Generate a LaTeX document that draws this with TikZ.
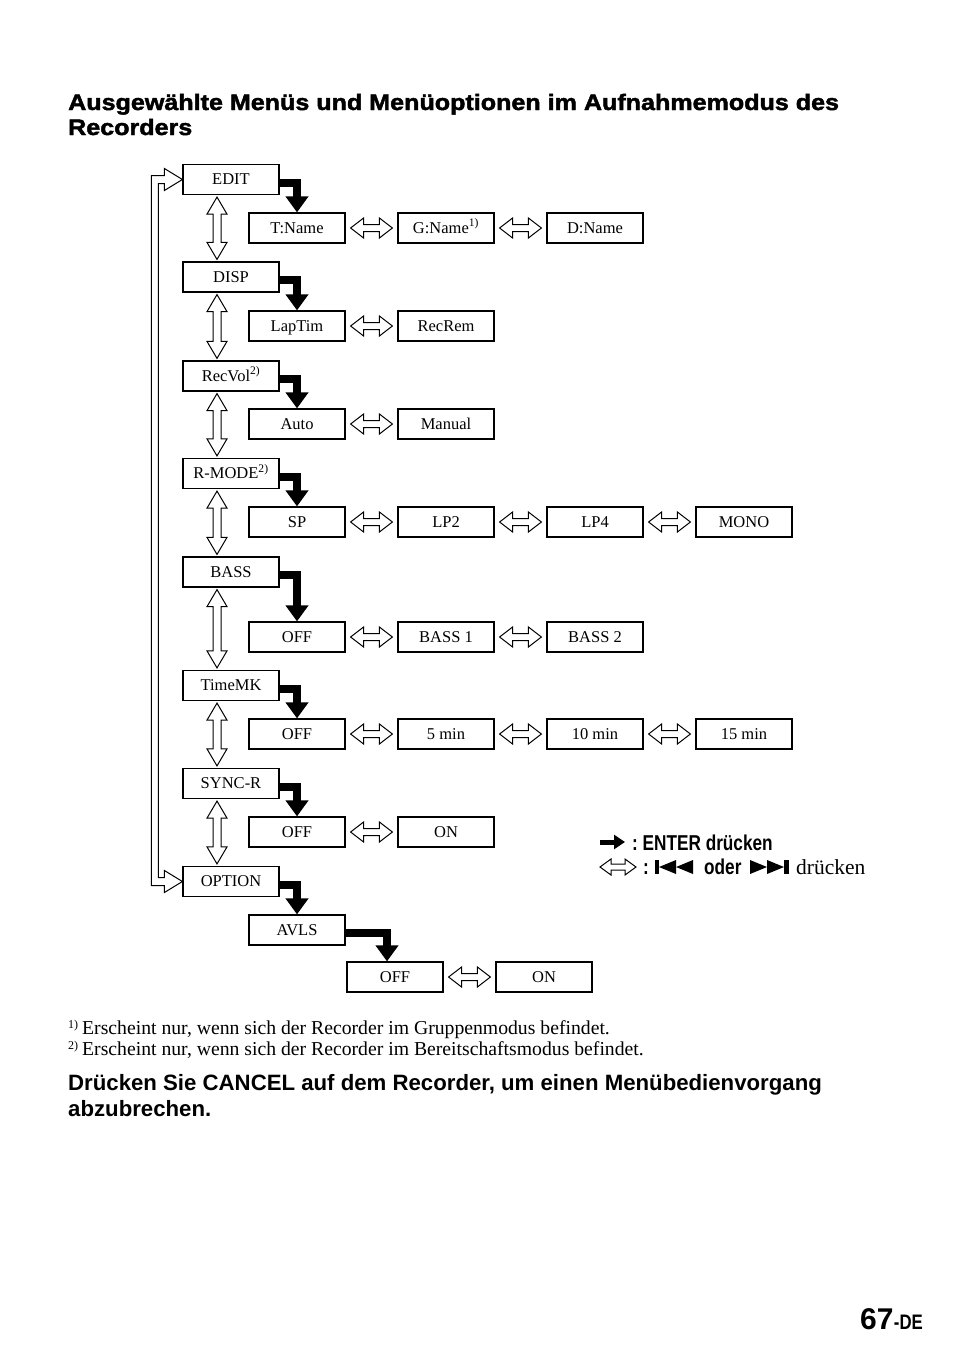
\documentclass[tikz,border=0pt]{standalone}
\usepackage{fontspec}
\setmainfont{Liberation Serif}
\newfontfamily\hv{Liberation Sans}
\newfontfamily\hvblack[FakeStretch=1.12,FakeBold=2]{Liberation Sans}
\newfontfamily\hvc[FakeStretch=0.8]{Liberation Sans}
\usetikzlibrary{calc,arrows.meta}
\newcommand\hdarrow[2]{\draw[hollow] ($(#1.east)+(5,0)$) -- ++(13,-10) -- ++(0,6.5) -- ($(#2.west)+(-18,-3.5)$) -- ++(0,-6.5) -- ++(13,10) -- ++(-13,10) -- ++(0,-6.5) -- ($(#1.east)+(18,3.5)$) -- ++(0,6.5) -- cycle;}
\newcommand\vdarrow[2]{\draw[hollow] ($(#1.south)+(-14,2)$) -- ++(10,17) -- ++(-6,0) -- ($(#2.north)+(-10,-19)$) -- ++(6,0) -- ++(-10,17) -- ++(-10,-17) -- ++(6,0) -- ($(#1.south)+(-18,19)$) -- ++(-6,0) -- cycle;}
\begin{document}
\begin{tikzpicture}[x=1pt,y=-1pt,
 box/.style={draw,line width=1.2pt,minimum width=96pt,minimum height=30pt,inner sep=0pt,font=\fontsize{16.5}{18}\selectfont,text height=11pt,text depth=1pt},
 hollow/.style={draw,fill=white,line width=1pt,line join=miter},
 enter/.style={line width=8pt,-{Triangle[width=22pt,length=16pt]}},
 txt/.style={anchor=base west,inner sep=0pt}]
\useasboundingbox (0,0) rectangle (954,1357);
% title
\node[txt,font=\hvblack\bfseries\fontsize{22.4}{24}\selectfont] (t1) at (68,110) {Ausgewählte Menüs und Menüoptionen im Aufnahmemodus des};
\node[txt,font=\hvblack\bfseries\fontsize{22.4}{24}\selectfont] (t2) at (68,135) {Recorders};
% boxes
\node[box] (edit) at (231,179.5) {EDIT};
\node[box] (tname) at (297,228) {T:Name};
\node[box] (gname) at (446,228) {G:Name\textsuperscript{1)}};
\node[box] (dname) at (595,228) {D:Name};
\node[box] (disp) at (231,277) {DISP};
\node[box] (laptim) at (297,326) {LapTim};
\node[box] (recrem) at (446,326) {RecRem};
\node[box] (recvol) at (231,376) {RecVol\textsuperscript{2)}};
\node[box] (auto) at (297,424) {Auto};
\node[box] (manual) at (446,424) {Manual};
\node[box] (rmode) at (231,473.5) {R-MODE\textsuperscript{2)}};
\node[box] (sp) at (297,522) {SP};
\node[box] (lp2) at (446,522) {LP2};
\node[box] (lp4) at (595,522) {LP4};
\node[box] (mono) at (744,522) {MONO};
\node[box] (bass) at (231,572) {BASS};
\node[box] (boff) at (297,637) {OFF};
\node[box] (bass1) at (446,637) {BASS 1};
\node[box] (bass2) at (595,637) {BASS 2};
\node[box] (timemk) at (231,685.5) {TimeMK};
\node[box] (toff) at (297,734) {OFF};
\node[box] (t5) at (446,734) {5 min};
\node[box] (t10) at (595,734) {10 min};
\node[box] (t15) at (744,734) {15 min};
\node[box] (syncr) at (231,783.5) {SYNC-R};
\node[box] (soff) at (297,832) {OFF};
\node[box] (son) at (446,832) {ON};
\node[box] (option) at (231,881.5) {OPTION};
\node[box] (avls) at (297,930) {AVLS};
\node[box] (aoff) at (395,977) {OFF};
\node[box] (aon) at (544,977) {ON};
% vertical double arrows
\vdarrow{edit}{disp}
\vdarrow{disp}{recvol}
\vdarrow{recvol}{rmode}
\vdarrow{rmode}{bass}
\vdarrow{bass}{timemk}
\vdarrow{timemk}{syncr}
\vdarrow{syncr}{option}
% horizontal double arrows
\hdarrow{tname}{gname}
\hdarrow{gname}{dname}
\hdarrow{laptim}{recrem}
\hdarrow{auto}{manual}
\hdarrow{sp}{lp2}
\hdarrow{lp2}{lp4}
\hdarrow{lp4}{mono}
\hdarrow{boff}{bass1}
\hdarrow{bass1}{bass2}
\hdarrow{toff}{t5}
\hdarrow{t5}{t10}
\hdarrow{t10}{t15}
\hdarrow{soff}{son}
\hdarrow{aoff}{aon}
% enter arrows
\draw[enter] ($(edit.east)+(0,3)$) -| (tname.north);
\draw[enter] ($(disp.east)+(0,3)$) -| (laptim.north);
\draw[enter] ($(recvol.east)+(0,3)$) -| (auto.north);
\draw[enter] ($(rmode.east)+(0,3)$) -| (sp.north);
\draw[enter] ($(bass.east)+(0,3)$) -| (boff.north);
\draw[enter] ($(timemk.east)+(0,3)$) -| (toff.north);
\draw[enter] ($(syncr.east)+(0,3)$) -| (soff.north);
\draw[enter] ($(option.east)+(0,3)$) -| (avls.north);
\draw[enter] ($(avls.east)+(0,3)$) -| ($(aoff.north)+(-8,0)$);
% return loop
\draw[hollow] (edit.west) -- ++(-18,-11) -- ++(0,7) -- ($(edit.west)+(-31,-4)$) -- ($(option.west)+(-31,4)$) -- ++(13,0) -- ++(0,7) -- (option.west) -- ++(-18,-11) -- ++(0,7) -- ($(option.west)+(-24,-4)$) -- ($(edit.west)+(-24,4)$) -- ++(6,0) -- ++(0,7) -- cycle;
% legend
\coordinate (la) at (600,842);
\coordinate (lb) at (625,842);
\draw[line width=5pt,-{Triangle[width=14pt,length=11pt]}] (la) -- (lb);
\node[txt,font=\hvc\bfseries\fontsize{21.5}{22}\selectfont] (l1) at (632,850) {:\ ENTER drücken};
\draw[hollow] (600,867) -- ++(11,-8) -- ++(0,5) -- (625,864) -- ++(0,-5) -- ++(11,8) -- ++(-11,8) -- ++(0,-5) -- (611,870) -- ++(0,5) -- cycle;
\node[txt,font=\hvc\bfseries\fontsize{21.5}{22}\selectfont] (l2a) at (643,874) {:};
\fill (655,860) rectangle (659,874);
\fill (659,867) -- (676,860) -- (676,874) -- cycle;
\fill (676,867) -- (693,860) -- (693,874) -- cycle;
\node[txt,font=\hvc\bfseries\fontsize{21.5}{22}\selectfont] (l2b) at (704,874) {oder};
\fill (750,860) -- (767,867) -- (750,874) -- cycle;
\fill (767,860) -- (784,867) -- (767,874) -- cycle;
\fill (784,860) rectangle (789,874);
\node[txt,font=\fontsize{21.5}{22}\selectfont] (l2c) at (796,874) {drücken};
% footnotes
\node[txt,font=\fontsize{12}{13}\selectfont] (f1n) at (68,1028) {1)};
\node[txt,font=\fontsize{19.7}{21}\selectfont] (f1) at (82,1034) {Erscheint nur, wenn sich der Recorder im Gruppenmodus befindet.};
\node[txt,font=\fontsize{12}{13}\selectfont] (f2n) at (68,1049) {2)};
\node[txt,font=\fontsize{19.7}{21}\selectfont] (f2) at (82,1055) {Erscheint nur, wenn sich der Recorder im Bereitschaftsmodus befindet.};
% bottom note
\node[txt,font=\hv\bfseries\fontsize{22.2}{24}\selectfont] (b1) at (68,1090) {Drücken Sie CANCEL auf dem Recorder, um einen Menübedienvorgang};
\node[txt,font=\hv\bfseries\fontsize{22.2}{24}\selectfont] (b2) at (68,1116) {abzubrechen.};
% page number
\node[txt,font=\hv\bfseries\fontsize{30}{32}\selectfont] (pnum) at (860,1329) {67};
\node[txt,font=\hvc\bfseries\fontsize{21}{22}\selectfont] (pde) at (pnum.base east) {-DE};
\end{tikzpicture}
\end{document}
